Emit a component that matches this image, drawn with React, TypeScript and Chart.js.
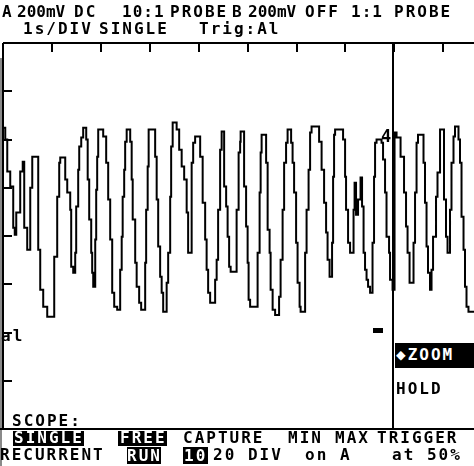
import React, { useEffect, useRef } from "react";
import { Chart, registerables } from "chart.js";

Chart.register(...registerables);

// Time in seconds (1 s/DIV), channel A in mV (200 mV/DIV)
const timeS = [
  0.0, 0.046, 0.087, 0.148, 0.209, 0.24, 0.271, 0.352, 0.403, 0.434,
  0.495, 0.557, 0.598, 0.72, 0.761, 0.822, 0.904, 1.047, 1.108, 1.149,
  1.17, 1.272, 1.313, 1.374, 1.394, 1.435, 1.476, 1.496, 1.537, 1.558,
  1.599, 1.639, 1.701, 1.731, 1.762, 1.803, 1.823, 1.844, 1.885, 1.905,
  1.925, 1.946, 2.048, 2.109, 2.15, 2.191, 2.232, 2.273, 2.334, 2.395,
  2.426, 2.446, 2.477, 2.497, 2.528, 2.6, 2.63, 2.651, 2.702, 2.732,
  2.783, 2.824, 2.906, 2.926, 2.957, 2.977, 3.11, 3.141, 3.172, 3.212,
  3.243, 3.274, 3.345, 3.376, 3.417, 3.437, 3.468, 3.549, 3.601, 3.652,
  3.703, 3.754, 3.784, 3.856, 3.887, 3.927, 4.03, 4.081, 4.132, 4.162,
  4.193, 4.234, 4.336, 4.367, 4.397, 4.438, 4.469, 4.52, 4.561, 4.591,
  4.622, 4.653, 4.775, 4.816, 4.847, 4.857, 4.928, 4.969, 5.0, 5.02,
  5.051, 5.204, 5.245, 5.266, 5.286, 5.378, 5.409, 5.449, 5.47, 5.511,
  5.562, 5.643, 5.674, 5.715, 5.746, 5.786, 5.817, 5.889, 5.919, 5.95,
  5.991, 6.021, 6.062, 6.083, 6.175, 6.205, 6.246, 6.277, 6.307, 6.461,
  6.512, 6.563, 6.604, 6.634, 6.675, 6.726, 6.747, 6.767, 6.788, 6.951,
  6.992, 7.012, 7.053, 7.094, 7.165, 7.186, 7.216, 7.257, 7.308, 7.339,
  7.37, 7.4, 7.431, 7.462, 7.503, 7.553, 7.584, 7.605, 7.635, 7.737,
  7.768, 7.809, 7.839, 7.891, 7.911, 7.962, 8.003, 8.044, 8.126, 8.197,
  8.238, 8.269, 8.31, 8.391, 8.422, 8.453, 8.483, 8.595, 8.626, 8.657,
  8.687, 8.728, 8.759, 8.79, 8.851, 8.881, 8.933, 9.014, 9.055, 9.086,
  9.137, 9.167, 9.208, 9.239, 9.31, 9.341, 9.372, 9.413, 9.443, 9.474,
  9.514, 9.627,
];

const channelAmV = [
  449, 400, 267, 205, 34, 5, 97, 267, 308, 34,
  -57, 200, 329, -57, -223, -293, -335, -86, 163, 304,
  325, 234, 180, 109, -127, -152, -69, 122, 275, 371,
  408, 449, 400, 234, 68, -69, -152, -210, -15, 192,
  329, 441, 412, 304, 151, -15, -235, -293, -306, -140,
  -3, 163, 275, 391, 441, 391, 234, 68, -111, -210,
  -277, -306, -111, 109, 288, 441, 329, 151, -44, -169,
  -235, -314, -194, -69, 163, 371, 470, 441, 358, 288,
  234, 97, -69, 304, 387, 412, 329, 138, -15, -140,
  -235, -277, -181, -98, 109, 358, 433, 205, 122, -3,
  -127, -148, 109, 346, 391, 433, 205, 39, -111, -264,
  -293, -69, 180, 346, 420, 304, 26, -69, -223, -306,
  -327, -252, -98, 109, 304, 387, 441, 387, 304, 180,
  -28, -194, -293, -314, -69, 109, 275, 429, 454, 391,
  275, 138, 14, -98, -169, -28, 246, 420, 441, 400,
  246, 109, -28, -69, 109, 221, 88, 151, 242, 122,
  -69, -140, -181, -210, -235, -28, 246, 387, 400, 387,
  317, 180, -3, -69, -181, -223, 429, 408, 329, 180,
  39, -69, -194, -28, 180, 387, 420, 304, 138, -44,
  -152, -223, -140, -3, 163, 263, 441, 151, -3, -69,
  109, 304, 412, 454, 400, 304, 80, -57, -210, -293,
  -314, -314,
];

const divTicksTime = [1, 2, 3, 4, 5, 6, 7, 8, 9];
const divTicksMV = [-600, -400, -200, 0, 200, 400, 600];
const timeMax = 9.627;
const mVMin = -800;
const mVMax = 800;
const cursorTime = 7.98;

const FONT = "'DejaVu Sans Mono', 'Liberation Mono', monospace";

const scopeFrame = {
  id: "scopeFrame",
  afterDatasetsDraw(chart: any) {
    const { ctx, chartArea: a, scales, width, height } = chart;
    const x = scales.x;
    const y = scales.y;
    ctx.save();
    // scanner edge strip
    ctx.fillStyle = "#8a8a8a";
    ctx.fillRect(0, 58, 2, height - 58);
    ctx.strokeStyle = "#000";
    ctx.lineWidth = 2;
    ctx.beginPath();
    ctx.moveTo(a.left, a.top);
    ctx.lineTo(a.right, a.top);
    ctx.moveTo(a.left, a.top);
    ctx.lineTo(a.left, a.bottom);
    ctx.moveTo(0, a.bottom);
    ctx.lineTo(width, a.bottom);
    for (const t of divTicksTime) {
      const px = Math.round(x.getPixelForValue(t));
      ctx.moveTo(px, a.top);
      ctx.lineTo(px, a.top + 9);
    }
    for (const v of divTicksMV) {
      const py = Math.round(y.getPixelForValue(v));
      ctx.moveTo(a.left, py);
      ctx.lineTo(a.left + 9, py);
    }
    const cx = Math.round(x.getPixelForValue(cursorTime));
    ctx.moveTo(cx, a.top);
    ctx.lineTo(cx, a.bottom);
    ctx.stroke();
    ctx.restore();
  },
};

function T({ x, y, children, size = 16, color = "#000", ls = 2 }: any) {
  return (
    <div
      style={{
        position: "absolute",
        left: x,
        top: y,
        fontFamily: FONT,
        fontSize: size,
        lineHeight: `${size}px`,
        fontWeight: "bold",
        letterSpacing: `${ls}px`,
        whiteSpace: "pre",
        color,
      }}
    >
      {children}
    </div>
  );
}

function Box({ x, y, w, h, children, tx = 2, ty = -1 }: any) {
  return (
    <div
      style={{
        position: "absolute",
        left: x,
        top: y,
        width: w,
        height: h,
        background: "#000",
        overflow: "hidden",
      }}
    >
      <T x={tx} y={ty} color="#fff">
        {children}
      </T>
    </div>
  );
}

export default function App() {
  const canvasRef = useRef<HTMLCanvasElement | null>(null);

  useEffect(() => {
    const canvas = canvasRef.current;
    if (!canvas) return;
    const points = timeS.map((t, i) => ({ x: t, y: channelAmV[i] }));
    const chart = new Chart(canvas, {
      type: "line",
      data: {
        datasets: [
          {
            label: "A",
            data: points,
            stepped: true,
            borderColor: "#000",
            borderWidth: 2,
            pointRadius: 0,
            fill: false,
          } as any,
        ],
      },
      options: {
        animation: false,
        responsive: false,
        devicePixelRatio: 1,
        events: [],
        layout: { padding: { left: 3, top: 43, right: 0, bottom: 37 } },
        scales: {
          x: { type: "linear", min: 0, max: timeMax, display: false },
          y: { type: "linear", min: mVMin, max: mVMax, display: false },
        },
        plugins: {
          legend: { display: false },
          tooltip: { enabled: false },
          title: { display: false },
        },
      },
      plugins: [scopeFrame],
    });
    return () => chart.destroy();
  }, []);

  return (
    <div
      style={{
        position: "fixed",
        left: 0,
        top: 0,
        width: 474,
        height: 466,
        background: "#fff",
        overflow: "hidden",
      }}
    >
      <canvas
        ref={canvasRef}
        width={474}
        height={466}
        style={{ position: "absolute", left: 0, top: 0, width: 474, height: 466 }}
      />
      {/* header row 1 */}
      <T x={2} y={4}>A</T>
      <T x={17} y={4} ls={0}>200mV</T>
      <T x={74} y={4}>DC</T>
      <T x={122} y={4} ls={1}>10:1</T>
      <T x={170} y={4}>PROBE</T>
      <T x={232} y={4}>B</T>
      <T x={248} y={4} ls={0}>200mV</T>
      <T x={305} y={4}>OFF</T>
      <T x={351} y={4} ls={1}>1:1</T>
      <T x={394} y={4}>PROBE</T>
      {/* header row 2 */}
      <T x={23} y={21}>1s/DIV</T>
      <T x={99} y={21}>SINGLE</T>
      <T x={199} y={21}>Trig:Al</T>
      {/* in-graticule markers */}
      <T x={381} y={128} size={17}>4</T>
      <T x={1} y={328}>al</T>
      <div style={{ position: "absolute", left: 373, top: 328, width: 10, height: 5, background: "#000" }} />
      <Box x={395} y={343} w={79} h={25} tx={1} ty={4}>◆ZOOM</Box>
      <T x={396} y={381}>HOLD</T>
      <T x={12} y={413}>SCOPE:</T>
      {/* bottom menu row 1 */}
      <Box x={13} y={431} w={71} h={15} tx={1} ty={-1}>SINGLE</Box>
      <Box x={118} y={431} w={49} h={15} tx={2} ty={-1}>FREE</Box>
      <T x={183} y={430}>CAPTURE</T>
      <T x={288} y={430}>MIN</T>
      <T x={335} y={430}>MAX</T>
      <T x={377} y={430}>TRIGGER</T>
      {/* bottom menu row 2 */}
      <T x={0} y={447}>RECURRENT</T>
      <Box x={127} y={447} w={34} h={17} tx={0} ty={1}>RUN</Box>
      <Box x={183} y={447} w={25} h={17} tx={1} ty={1}>10</Box>
      <T x={213} y={447}>20 DIV</T>
      <T x={305} y={447}>on A</T>
      <T x={392} y={447}>at 50%</T>
    </div>
  );
}
